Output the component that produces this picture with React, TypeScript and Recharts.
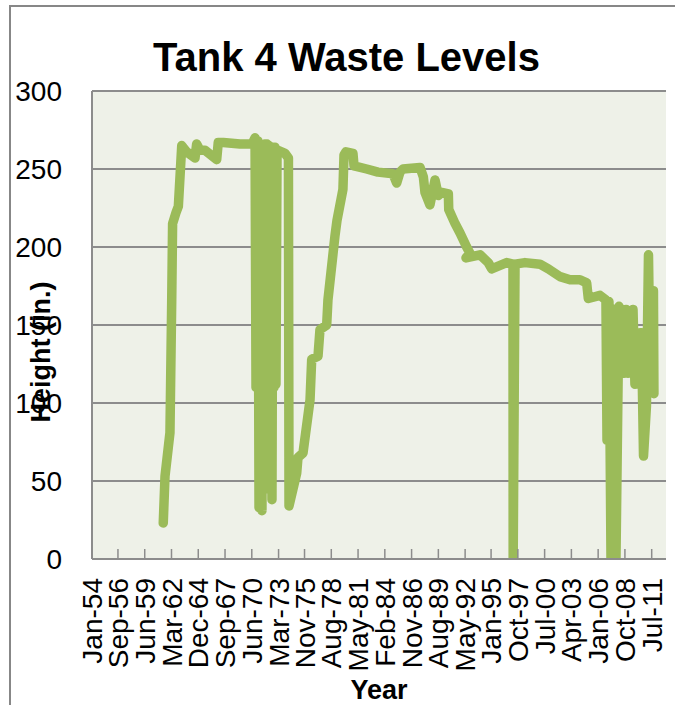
import React from 'react';
import { LineChart, Line, XAxis, YAxis, CartesianGrid } from 'recharts';

// x-axis labels as printed in the sheet
const tickLabels = [
  'Jan-54', 'Sep-56', 'Jun-59', 'Mar-62', 'Dec-64', 'Sep-67', 'Jun-70', 'Mar-73',
  'Nov-75', 'Aug-78', 'May-81', 'Feb-84', 'Nov-86', 'Aug-89', 'May-92', 'Jan-95',
  'Oct-97', 'Jul-00', 'Apr-03', 'Jan-06', 'Oct-08', 'Jul-11',
];
const MONTHS = ['Jan', 'Feb', 'Mar', 'Apr', 'May', 'Jun', 'Jul', 'Aug', 'Sep', 'Oct', 'Nov', 'Dec'];
const labelToYear = (s: string) => {
  const [m, yy] = s.split('-');
  const n = Number(yy);
  return (n < 50 ? 2000 : 1900) + n + MONTHS.indexOf(m) / 12;
};
const tickYears = tickLabels.map(labelToYear);

const yTicks = [0, 50, 100, 150, 200, 250, 300];

// measurement dates (decimal year) and waste height (in.)
const years = [
  1961.32, 1961.5, 1962.01, 1962.19, 1962.28, 1962.63, 1962.87, 1963.22, 1963.73, 1964.58,
  1964.75, 1965.09, 1965.61, 1966.81, 1966.97, 1967.49, 1969.2, 1970.44, 1970.75, 1970.85,
  1971.05, 1971.16, 1971.26, 1971.46, 1971.57, 1971.67, 1971.77, 1971.88, 1971.98, 1972.08,
  1972.18, 1972.29, 1972.39, 1972.49, 1972.59, 1972.7, 1972.8, 1972.9, 1973.01, 1973.11,
  1973.83, 1974.18, 1974.24, 1975.03, 1975.16, 1975.68, 1976.4, 1976.57, 1977.22, 1977.42,
  1978.11, 1978.24, 1978.96, 1979.17, 1979.78, 1979.89, 1980.09, 1980.81, 1980.92, 1982.22,
  1983.38, 1984.92, 1985.3, 1985.64, 1985.95, 1987.7, 1988.04, 1988.21, 1988.72, 1989.24,
  1989.58, 1989.93, 1990.61, 1990.65, 1991.3, 1991.81, 1992.49, 1992.83, 1992.42, 1993.86,
  1994.71, 1995.06, 1996.6, 1997.25, 1997.27, 1997.46, 1998.48, 2000.02, 2000.88, 2002.08,
  2003.11, 2004.13, 2004.82, 2004.99, 2006.19, 2006.8, 2006.91, 2007.11, 2007.32, 2007.63,
  2007.83, 2008.14, 2008.24, 2008.45, 2008.65, 2008.86, 2009.06, 2009.58, 2009.78, 2009.99,
  2010.3, 2010.45, 2010.66, 2010.96, 2011.17, 2011.27, 2011.68, 2011.73,
];
const heights = [
  23, 53, 81, 166, 215, 222, 226, 265, 261, 257,
  266, 262, 262, 256, 267, 267, 266, 266, 270, 110,
  268, 33, 265, 31, 265, 110, 266, 110, 266, 45,
  265, 110, 264, 38, 264, 110, 264, 112, 262, 262,
  260, 257, 34, 55, 65, 68, 102, 128, 130, 147,
  150, 166, 207, 217, 237, 259, 261, 260, 252, 250,
  248, 247, 241, 248, 250, 251, 245, 235, 227, 243,
  233, 235, 234, 224, 215, 209, 200, 196, 193, 195,
  190, 186, 190, 189, 0, 189, 190, 189, 186, 181,
  179, 179, 177, 167, 169, 166, 76, 165, 0, 160,
  0, 162, 120, 160, 119, 160, 119, 160, 112, 140,
  145, 145, 66, 98, 195, 150, 172, 106,
];

const data = years.map((year, i) => ({ year, height: heights[i] }));

const FONT = '"Liberation Sans", Arial, sans-serif';
const GRID = '#8c8c8c';

const XTick = (props: any) => {
  const { x, y, index } = props;
  const ty = y + 19;
  return (
    <g>
      <line x1={x} y1={y} x2={x} y2={y - 10} stroke={GRID} strokeWidth={1.5} />
      <text
        x={x}
        y={ty}
        dy="0.36em"
        transform={`rotate(-90, ${x}, ${ty})`}
        textAnchor="end"
        fontFamily={FONT}
        fontSize={28}
        fill="#000"
      >
        {tickLabels[index]}
      </text>
    </g>
  );
};

const YTitle = (props: any) => {
  const { viewBox } = props;
  const cx = viewBox.x + 38;
  const cy = viewBox.y + viewBox.height / 2 + 27;
  return (
    <text
      x={cx}
      y={cy}
      transform={`rotate(-90, ${cx}, ${cy})`}
      textAnchor="middle"
      fontFamily={FONT}
      fontSize={27}
      fontWeight="bold"
      fill="#000"
    >
      Height (in.)
    </text>
  );
};

export default function App() {
  return (
    <div style={{ position: 'absolute', left: 0, top: 0, width: 675, height: 705, overflow: 'hidden', background: '#fff', fontFamily: FONT }}>
      <div style={{ position: 'absolute', left: 9, top: 5, width: 720, height: 760, border: '2px solid #878787' }} />
      <div style={{ position: 'absolute', left: 0, top: 37, width: 693, textAlign: 'center', fontSize: 40, lineHeight: '40px', fontWeight: 'bold', color: '#000' }}>
        Tank 4 Waste Levels
      </div>
      <div style={{ position: 'absolute', left: 0, top: 0 }}>
        <LineChart width={675} height={705} data={data} margin={{ top: 91, right: 9, left: 12, bottom: 6 }}>
          <CartesianGrid vertical={false} fill="#eef1e8" stroke={GRID} strokeWidth={2} horizontalValues={yTicks} />
          <XAxis
            dataKey="year"
            type="number"
            domain={[1954, 2012.97]}
            ticks={tickYears}
            interval={0}
            height={140}
            tickSize={0}
            tickMargin={0}
            tickLine={false}
            axisLine={{ stroke: GRID, strokeWidth: 2 }}
            tick={<XTick />}
            allowDataOverflow
            label={{ value: 'Year', position: 'insideBottom', offset: 0, fontSize: 27, fontWeight: 'bold', fill: '#000', fontFamily: FONT }}
          />
          <YAxis
            type="number"
            domain={[0, 300]}
            ticks={yTicks}
            interval={0}
            width={80}
            tickSize={0}
            tickMargin={30}
            tickLine={false}
            axisLine={{ stroke: GRID, strokeWidth: 2 }}
            tick={{ fontSize: 28, fill: '#000', fontFamily: FONT }}
            allowDataOverflow
            label={<YTitle />}
          />
          <Line
            type="linear"
            dataKey="height"
            stroke="#9bbb59"
            strokeWidth={9.5}
            strokeLinejoin="round"
            strokeLinecap="round"
            dot={false}
            activeDot={false}
            isAnimationActive={false}
          />
        </LineChart>
      </div>
    </div>
  );
}
